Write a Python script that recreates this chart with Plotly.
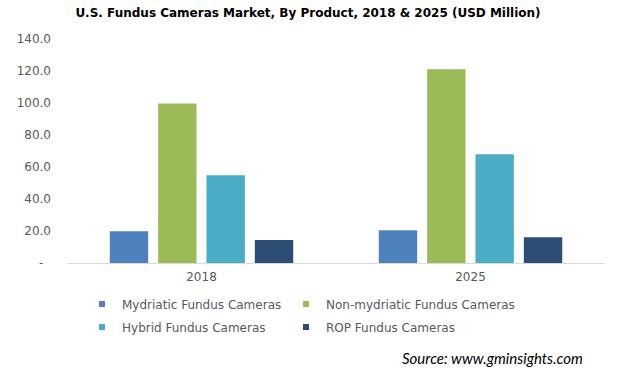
import plotly.graph_objects as go

years = ["2018", "2025"]
series_names = [
    "Mydriatic Fundus Cameras",
    "Non-mydriatic Fundus Cameras",
    "Hybrid Fundus Cameras",
    "ROP Fundus Cameras",
]
mydriatic = [19.8, 20.4]
non_mydriatic = [99.7, 121.1]
hybrid = [54.9, 68.0]
rop = [14.3, 16.1]
series_values = [mydriatic, non_mydriatic, hybrid, rop]
colors = ["#4F81BD", "#9BBB59", "#4BACC6", "#2C4D75"]
legend_ids = ["legend", "legend2", "legend3", "legend4"]

y_tickvals = [0, 20, 40, 60, 80, 100, 120, 140]
y_ticktext = ["-\u00a0\u00a0", "20.0", "40.0", "60.0", "80.0", "100.0", "120.0", "140.0"]

W, H = 618, 370
FONT = "DejaVu Sans"
GREY = "#595959"

PL, PR, PT, PB = 67, 605, 39, 263  # plot box in px

fig = go.Figure()
for name, vals, col in zip(series_names, series_values, colors):
    fig.add_trace(go.Bar(x=years, y=vals, name=name, marker_color=col,
                         marker_line_width=0, showlegend=False))
# legend entries (small square markers)
for name, col, lg in zip(series_names, colors, legend_ids):
    fig.add_trace(go.Scatter(x=[None], y=[None], mode="markers", name=name,
                             marker=dict(symbol="square", size=6, color=col),
                             legend=lg, showlegend=True))

# legend slots: (text-left px, row-center px)
legend_pos = [(122, 304), (326, 304), (122, 327), (326, 327)]
TEXT_OFF = 40

legends = {}
for lg, (lx, ly) in zip(legend_ids, legend_pos):
    legends[lg] = dict(orientation="h", xref="container", yref="container",
                       x=(lx - TEXT_OFF) / W, xanchor="left",
                       y=1 - ly / H, yanchor="middle",
                       font=dict(family=FONT, size=12, color=GREY),
                       bgcolor="rgba(0,0,0,0)")

fig.update_layout(
    width=W, height=H,
    margin=dict(l=PL, r=W - PR, t=PT, b=H - PB, autoexpand=False),
    paper_bgcolor="white", plot_bgcolor="white",
    barmode="group", bargap=0.281, bargroupgap=0.206,
    font=dict(family=FONT, size=12, color=GREY),
    title=dict(text="<b>U.S. Fundus Cameras Market, By Product, 2018 &amp; 2025 (USD Million)</b>",
               x=308 / W, xref="container", xanchor="center",
               y=1 - 13 / H, yref="container", yanchor="middle",
               font=dict(family="DejaVu Sans", size=12, color="#000000")),
    xaxis=dict(type="category", showline=True, linecolor="#D9D9D9", linewidth=1,
               showgrid=False, ticks="", ticklabelstandoff=3,
               tickfont=dict(family=FONT, size=12, color=GREY),
               zeroline=False),
    yaxis=dict(range=[0, 140], tickvals=y_tickvals, ticktext=y_ticktext,
               showgrid=False, zeroline=False, showline=False, ticks="",
               ticklabelstandoff=15,
               tickfont=dict(family=FONT, size=12, color=GREY)),
    annotations=[dict(text="<i>Source: www.gminsights.com</i>", xref="paper", yref="paper",
                      x=(585 - PL) / (PR - PL), xanchor="right",
                      y=(PB - 358) / (PB - PT), yanchor="middle", showarrow=False,
                      font=dict(family="Lato", size=15, color="#000000"))],
    **legends,
)

fig.write_html("out.html",
               config={"displayModeBar": False, "staticPlot": True},
               post_script="document.body.style.margin='0';document.body.style.padding='0';")
